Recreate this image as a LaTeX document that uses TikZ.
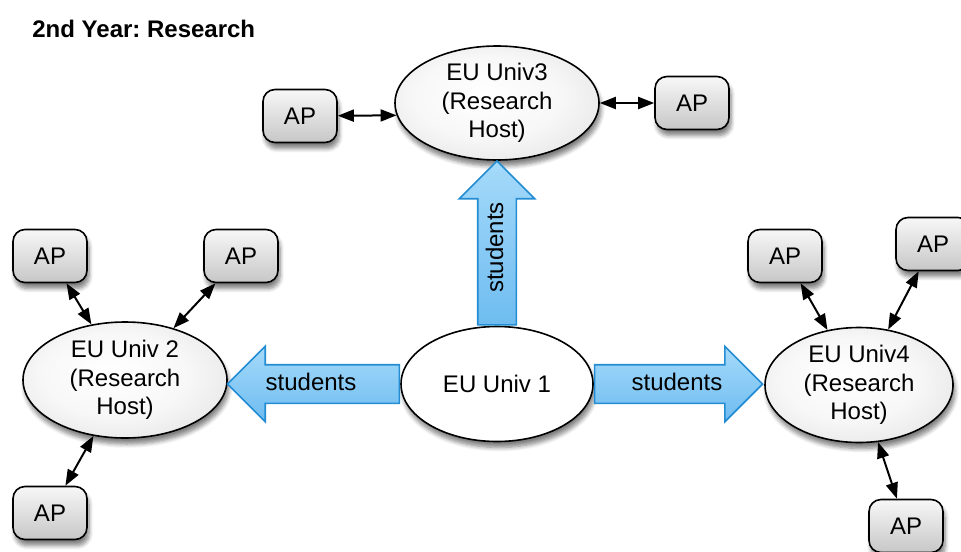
\documentclass[tikz,border=0pt]{standalone}
\usepackage{fontspec}
\setmainfont{Liberation Sans}
\usetikzlibrary{shapes.geometric, shapes.arrows, shadows.blur, arrows.meta}

\definecolor{arrowedge}{RGB}{35,140,210}
\definecolor{arrowtop}{RGB}{165,218,250}
\definecolor{arrowbot}{RGB}{110,188,240}
\pgfdeclareradialshading{hostshade}{\pgfpoint{-4bp}{4bp}}{%
  color(0bp)=(white); color(18bp)=(white!97!black); color(40bp)=(black!14); color(50bp)=(black!30)}

\begin{document}
\frenchspacing
\begin{tikzpicture}[x=0.5pt, y=-0.5pt,
  soft/.style={blur shadow={shadow xshift=1pt, shadow yshift=-3pt, shadow blur steps=6, shadow opacity=50}},
  uni/.style={ellipse, draw, line width=0.8pt, inner sep=0pt, align=center,
    font=\fontsize{12}{14.25}\selectfont, soft},
  host/.style={uni, shading=hostshade},
  ap/.style={draw, line width=0.8pt, rounded corners=6pt, minimum width=37pt,
    minimum height=26.5pt, font=\fontsize{12}{14}\selectfont,
    top color=black!3, bottom color=black!22, soft},
  fat/.style={single arrow, draw=arrowedge, line width=0.8pt, top color=arrowtop,
    bottom color=arrowbot, single arrow head extend=9.25pt, single arrow tip angle=90,
    single arrow head indent=0pt, inner xsep=2pt, inner ysep=3.25pt,
    text height=9pt, text depth=3pt, font=\fontsize{12}{14}\selectfont},
  link/.style={{Triangle[length=8pt,width=6pt]}-{Triangle[length=8pt,width=6pt]}, line width=1pt}]
  \useasboundingbox (0,0) rectangle (961,551);

  \node[anchor=west, inner sep=0pt, font=\bfseries\fontsize{12}{14}\selectfont] (title) at (32,29) {2nd Year: Research};

  % universities
  \node[uni, fill=white, minimum width=96pt, minimum height=57.5pt] (u1) at (497,384) {EU Univ 1};
  \node[host, minimum width=102pt, minimum height=58pt] (u2) at (125,380) {EU Univ 2\\(Research\\Host)};
  \node[host, minimum width=102pt, minimum height=57pt] (u3) at (497,103) {EU Univ3\\(Research\\Host)};
  \node[host, minimum width=94pt, minimum height=57.5pt] (u4) at (859,385) {EU Univ4\\(Research\\Host)};

  % students
  \node[fat, shape border rotate=180, minimum height=86pt, anchor=tail] (s2) at (u1.west) {students\hspace*{12pt}};
  \node[fat, minimum height=84pt, anchor=tail] (s4) at (u1.east) {\hspace*{8pt}students};
  \node[fat, rotate=90, minimum height=82pt, anchor=tail] (s3) at (u1.north) {\hspace*{5pt}students};

  % associated partners
  \node[ap] (a3l) at (300,116) {AP};
  \node[ap] (a3r) at (692,103) {AP};
  \node[ap] (a2a) at (50,256) {AP};
  \node[ap] (a2b) at (241,256) {AP};
  \node[ap] (a2c) at (50,513) {AP};
  \node[ap] (a4a) at (785,256) {AP};
  \node[ap] (a4b) at (933,244) {AP};
  \node[ap] (a4c) at (906,526) {AP};

  \draw[link] (a3l) -- (u3.187);
  \draw[link] (u3) -- (a3r);
  \draw[link] (a2a) -- (u2);
  \draw[link] (a2b) -- (u2);
  \draw[link] (u2) -- (a2c);
  \draw[link] (a4a) -- (u4);
  \draw[link] (a4b) -- (u4);
  \draw[link] (u4) -- (a4c);
\end{tikzpicture}
\end{document}
